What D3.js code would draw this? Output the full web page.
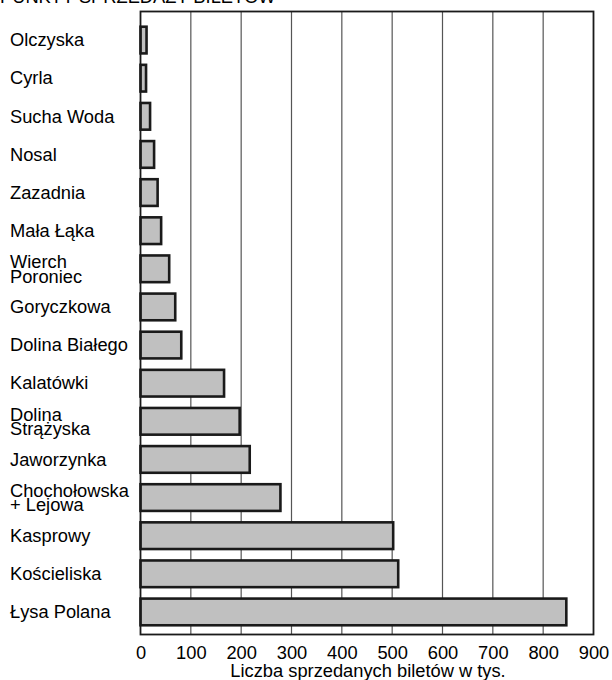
<!DOCTYPE html>
<html>
<head>
<meta charset="utf-8">
<script src="https://cdn.jsdelivr.net/npm/d3@7"></script>
<style>
  html, body { margin: 0; padding: 0; background: #fff; }
  svg { display: block; font-family: "Liberation Sans", Arial, sans-serif; }
</style>
</head>
<body>
<svg id="chart" width="612" height="680"></svg>
<script>
const categories = [
  ["Olczyska"], ["Cyrla"], ["Sucha Woda"], ["Nosal"], ["Zazadnia"], ["Mała Łąka"],
  ["Wierch", "Poroniec"], ["Goryczkowa"], ["Dolina Białego"], ["Kalatówki"],
  ["Dolina", "Strążyska"], ["Jaworzynka"], ["Chochołowska", "+ Lejowa"],
  ["Kasprowy"], ["Kościeliska"], ["Łysa Polana"]
];
const values = [12, 11, 19, 27, 34, 41, 57, 69, 81, 166, 197, 217, 278, 502, 512, 846];
const xTicks = [0, 100, 200, 300, 400, 500, 600, 700, 800, 900];
const title = "PUNKTY SPRZEDAŻY BILETÓW";
const xTitle = "Liczba sprzedanych biletów w tys.";

const svg = d3.select("#chart");
const frame = {left: 140.5, right: 593.5, top: 11.5, bottom: 634.5};
const FS = 18.3;

const x = d3.scaleLinear().domain([0, 900]).range([frame.left, frame.right]);
const keys = categories.map((c, i) => i);
const y = d3.scaleBand().domain(keys).range([21, 631]).paddingInner(0.3).paddingOuter(0.15);

// title
svg.append("text").attr("x", 0).attr("y", 3).attr("font-size", FS).attr("fill", "#000").text(title);

// gridlines
svg.append("g").selectAll("line").data(xTicks.slice(1, -1)).join("line")
  .attr("x1", d => x(d)).attr("x2", d => x(d))
  .attr("y1", frame.top).attr("y2", frame.bottom)
  .attr("stroke", "#555").attr("stroke-width", 1.2);

// bars
svg.append("g").selectAll("rect").data(values).join("rect")
  .attr("x", x(0))
  .attr("y", (d, i) => y(i))
  .attr("width", d => x(d) - x(0))
  .attr("height", y.bandwidth())
  .attr("fill", "#c0c0c0")
  .attr("stroke", "#1a1a1a")
  .attr("stroke-width", 2.6);

// frame
svg.append("rect")
  .attr("x", frame.left).attr("y", frame.top)
  .attr("width", frame.right - frame.left).attr("height", frame.bottom - frame.top)
  .attr("fill", "none").attr("stroke", "#1a1a1a").attr("stroke-width", 1.8);

// x axis
const xAxis = d3.axisBottom(x).tickValues(xTicks).tickSize(0).tickPadding(0).tickFormat(d3.format("d"));
const gx = svg.append("g").attr("transform", `translate(0,${frame.bottom})`).call(xAxis);
gx.select(".domain").remove();
gx.selectAll("text").attr("font-size", FS).attr("fill", "#000")
  .attr("font-family", "Liberation Sans, Arial, sans-serif")
  .attr("dy", null).attr("y", 24);

svg.append("text").attr("x", (frame.left + frame.right) / 2 + 1).attr("y", 677)
  .attr("text-anchor", "middle").attr("font-size", FS).attr("fill", "#000").text(xTitle);

// category labels
const lab = svg.append("g").selectAll("text").data(categories).join("text")
  .attr("x", 10).attr("font-size", FS).attr("fill", "#000")
  .attr("y", (d, i) => {
    const c = y(i) + y.bandwidth() / 2;
    return d.length === 1 ? c + 6.3 : c - 0.8;
  });
lab.each(function(d) {
  const t = d3.select(this);
  d.forEach((line, j) => {
    t.append("tspan").attr("x", 10).attr("dy", j === 0 ? 0 : 14.6).text(line);
  });
});
</script>
</body>
</html>
